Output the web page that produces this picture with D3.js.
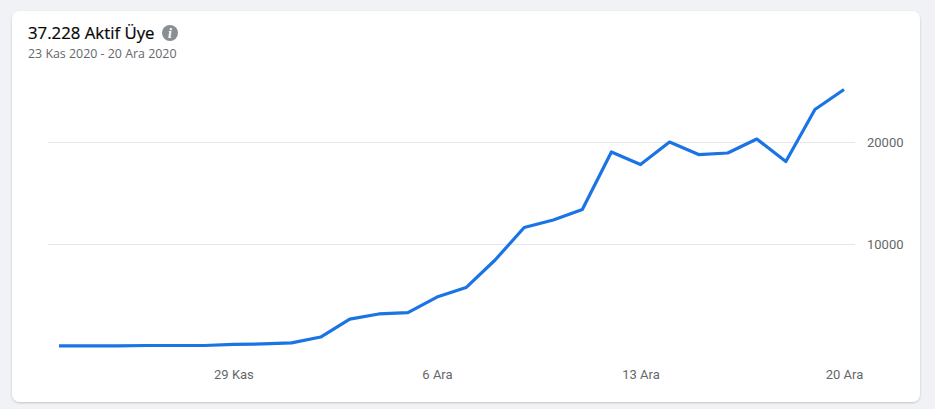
<!DOCTYPE html>
<html>
<head>
<meta charset="utf-8">
<script src="https://cdn.jsdelivr.net/npm/d3@7"></script>
<style>
html, body { margin: 0; padding: 0; background: #f0f2f5; overflow: hidden; }
svg { display: block; }
.tick text { font-family: Roboto, sans-serif; font-size: 13px; fill: #65676b; }
</style>
</head>
<body>
<svg id="chart"></svg>
<script>
const width = 935, height = 409;

// values
const days = ["2020-11-23", "2020-11-24", "2020-11-25", "2020-11-26", "2020-11-27", "2020-11-28", "2020-11-29",
    "2020-11-30", "2020-12-01", "2020-12-02", "2020-12-03", "2020-12-04", "2020-12-05", "2020-12-06",
    "2020-12-07", "2020-12-08", "2020-12-09", "2020-12-10", "2020-12-11", "2020-12-12", "2020-12-13",
    "2020-12-14", "2020-12-15", "2020-12-16", "2020-12-17", "2020-12-18", "2020-12-19", "2020-12-20"];
const members = [20, 20, 20, 50, 50, 50, 150, 200, 300, 880, 2630, 3140, 3280, 4800,
    5730, 8430, 11620, 12350, 13380, 19020, 17790, 20000, 18770, 18920, 20290, 18090, 23190, 25150];
const y_ticks = [10000, 20000];
const x_tick_days = ["2020-11-29", "2020-12-06", "2020-12-13", "2020-12-20"];
const x_tick_labels = ["29 Kas", "6 Ara", "13 Ara", "20 Ara"];

const title = "37.228 Aktif Üye";
const subtitle = "23 Kas 2020 - 20 Ara 2020";

const parse_day = d3.utcParse("%Y-%m-%d");

const svg = d3.select("#chart")
    .attr("width", width)
    .attr("height", height);

// card with soft shadow
const defs = svg.append("defs");
const shadow = defs.append("filter")
    .attr("id", "card-shadow")
    .attr("x", "-5%").attr("y", "-5%")
    .attr("width", "110%").attr("height", "110%");
shadow.append("feDropShadow")
    .attr("dx", 0).attr("dy", 1)
    .attr("stdDeviation", 1)
    .attr("flood-color", "#000")
    .attr("flood-opacity", 0.2);

svg.append("rect")
    .attr("x", 12).attr("y", 11)
    .attr("width", 908).attr("height", 391)
    .attr("rx", 8)
    .attr("fill", "#fff")
    .attr("filter", "url(#card-shadow)");

// header
svg.append("text")
    .attr("x", 28).attr("y", 39)
    .attr("font-family", "'Open Sans', sans-serif")
    .attr("font-size", 16.8)
    .attr("font-weight", 500)
    .attr("stroke", "#050505")
    .attr("stroke-width", 0.2)
    .attr("fill", "#050505")
    .text(title);

svg.append("text")
    .attr("x", 28).attr("y", 58)
    .attr("font-family", "'Open Sans', sans-serif")
    .attr("font-size", 12.4)
    .attr("fill", "#65676b")
    .text(subtitle);

svg.append("circle")
    .attr("cx", 170).attr("cy", 33)
    .attr("r", 8)
    .attr("fill", "#8a8d91");

svg.append("text")
    .attr("x", 170).attr("y", 38)
    .attr("text-anchor", "middle")
    .attr("font-family", "'Liberation Serif', serif")
    .attr("font-size", 14)
    .attr("font-weight", 700)
    .attr("font-style", "italic")
    .attr("fill", "#fff")
    .text("i");

// scales
const x = d3.scaleUtc()
    .domain([parse_day(days[0]), parse_day(days[days.length - 1])])
    .range([59, 844]);

const y = d3.scaleLinear()
    .domain([0, 20000])
    .range([346, 142]);

// horizontal grid and value labels
const y_axis = d3.axisRight(y)
    .tickValues(y_ticks)
    .tickSize(807)
    .tickPadding(12)
    .tickFormat(d3.format("d"));

svg.append("g")
    .attr("transform", "translate(48,0)")
    .call(y_axis)
    .call(g => g.select(".domain").remove())
    .call(g => g.selectAll(".tick line").attr("stroke", "#e4e6eb"));

// date labels
const x_axis = d3.axisBottom(x)
    .tickValues(x_tick_days.map(parse_day))
    .tickSize(0)
    .tickPadding(0)
    .tickFormat((d, i) => x_tick_labels[i]);

svg.append("g")
    .attr("transform", "translate(0,370)")
    .call(x_axis)
    .call(g => g.select(".domain").remove());

// the line
const line = d3.line()
    .x((d, i) => x(parse_day(days[i])))
    .y(d => y(d));

svg.append("path")
    .datum(members)
    .attr("fill", "none")
    .attr("stroke", "#1b74e4")
    .attr("stroke-width", 3.2)
    .attr("stroke-linejoin", "round")
    .attr("d", line);
</script>
</body>
</html>
